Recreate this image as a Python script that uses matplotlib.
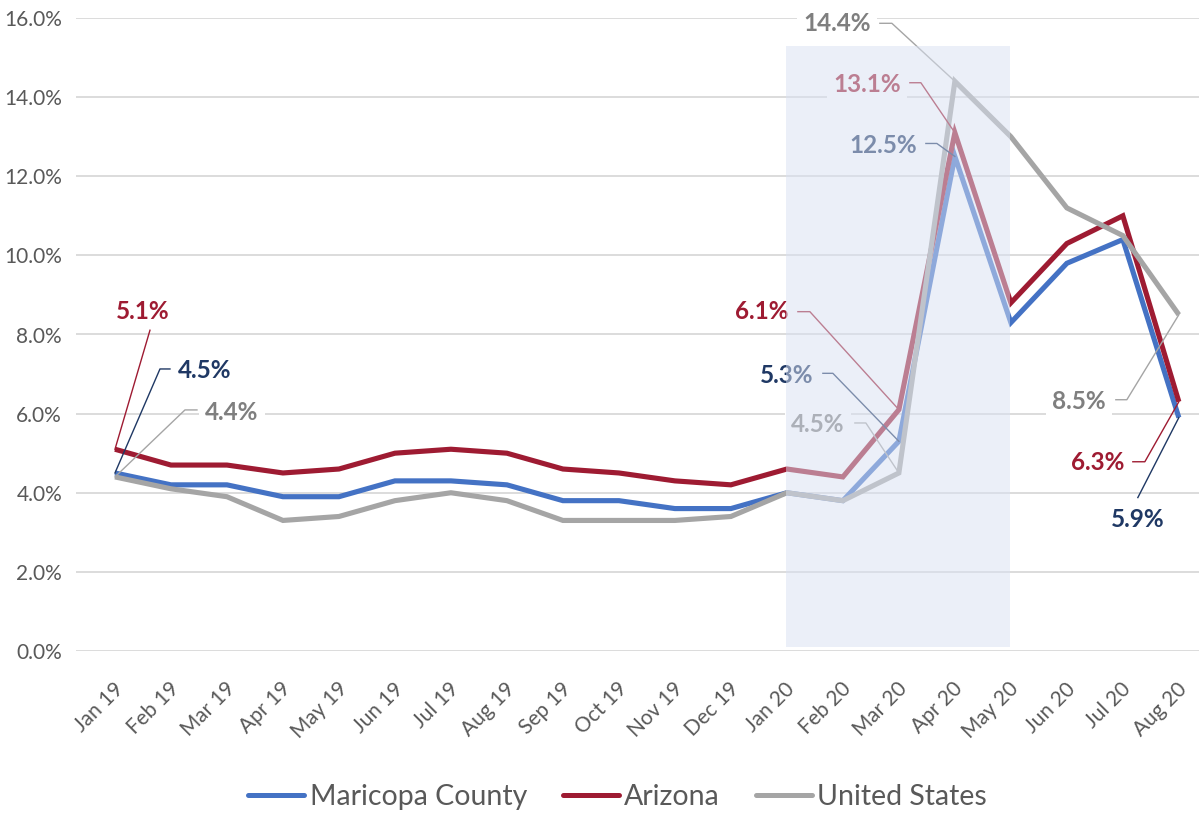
import matplotlib.pyplot as plt
import matplotlib.transforms as mtransforms
from matplotlib.ticker import FuncFormatter

months = ["Jan 19", "Feb 19", "Mar 19", "Apr 19", "May 19", "Jun 19", "Jul 19",
          "Aug 19", "Sep 19", "Oct 19", "Nov 19", "Dec 19", "Jan 20", "Feb 20",
          "Mar 20", "Apr 20", "May 20", "Jun 20", "Jul 20", "Aug 20"]
maricopa = [4.5, 4.2, 4.2, 3.9, 3.9, 4.3, 4.3, 4.2, 3.8, 3.8, 3.6, 3.6,
            4.0, 3.8, 5.3, 12.5, 8.3, 9.8, 10.4, 5.9]
arizona = [5.1, 4.7, 4.7, 4.5, 4.6, 5.0, 5.1, 5.0, 4.6, 4.5, 4.3, 4.2,
           4.6, 4.4, 6.1, 13.1, 8.8, 10.3, 11.0, 6.3]
united_states = [4.4, 4.1, 3.9, 3.3, 3.4, 3.8, 4.0, 3.8, 3.3, 3.3, 3.3, 3.4,
                 4.0, 3.8, 4.5, 14.4, 13.0, 11.2, 10.5, 8.5]
highlight = ("Jan 20", "May 20")

FONT = "Lato"
series = [
    ("Maricopa County", maricopa, "#4472C4", "#1F3864", "#1F3864"),
    ("Arizona", arizona, "#9E1B32", "#9E1B32", "#9E1B32"),
    ("United States", united_states, "#A5A5A5", "#7F7F7F", "#A5A5A5"),
]

# callouts: series index, month, text offset (px), leader vertices (px)
callouts = [
    (1, "Jan 19", (28, 138), [(0, 0), (35, 119)]),
    (0, "Jan 19", (90, 102), [(0, 0), (45, 104), (55, 104)]),
    (2, "Jan 19", (117, 64), [(0, 0), (70, 67), (82, 67)]),
    (2, "Apr 20", (-118, 58), [(0, 0), (-63, 58), (-75, 58)]),
    (1, "Apr 20", (-88, 48), [(0, 0), (-34, 50), (-45, 50)]),
    (0, "Apr 20", (-72, 11), [(0, 0), (-18, 13), (-29, 13)]),
    (1, "Mar 20", (-137, 98), [(0, 0), (-89, 98), (-101, 98)]),
    (0, "Mar 20", (-112, 66), [(0, 0), (-66, 68), (-76, 68)]),
    (2, "Mar 20", (-81, 48), [(0, 0), (-33, 50), (-44, 50)]),
    (2, "Aug 20", (-100, -87), [(0, 0), (-52, -85), (-63, -85)]),
    (1, "Aug 20", (-81, -61), [(0, 0), (-34, -60), (-46, -60)]),
    (0, "Aug 20", (-41, -102), [(0, 0), (-41, -80)]),
]

fig = plt.figure(figsize=(11.99, 8.13), dpi=100)
ax = fig.add_axes([76 / 1199, 1 - 651 / 813, 1 - 76 / 1199, (651 - 18) / 813])
x = list(range(len(months)))

for z, (name, vals, color, _, _) in enumerate(series):
    ax.plot(x, vals, color=color, lw=3.7, label=name, zorder=2 + z,
            solid_joinstyle="miter", solid_capstyle="butt")

for si, month, (dx, dy), path in callouts:
    _, vals, _, tcolor, lcolor = series[si]
    i = months.index(month)
    v = vals[i]
    tr = (mtransforms.Affine2D().scale(0.01) + fig.dpi_scale_trans
          + mtransforms.ScaledTranslation(i, v, ax.transData))
    ax.plot([p[0] for p in path], [p[1] for p in path], color=lcolor, lw=1.0,
            transform=tr, zorder=6, clip_on=False)
    ax.annotate(f"{v:.1f}%", xy=(i, v), xytext=(dx, dy),
                textcoords="offset pixels", ha="center", va="center",
                fontsize=17.5, fontweight="bold", color=tcolor, family=FONT,
                zorder=7, annotation_clip=False,
                bbox=dict(boxstyle="square,pad=0.25", fc="white", ec="none"))

i0, i1 = months.index(highlight[0]), months.index(highlight[1])
ax.axvspan(i0 - 0.02, i1 - 0.02, ymin=0.006, ymax=0.955, color="#D9E1F2",
           alpha=0.5, lw=0, zorder=10)

ax.set_xlim(-0.696, 19.36)
ax.set_ylim(0, 16)
ax.set_yticks(range(0, 17, 2))
ax.yaxis.set_major_formatter(FuncFormatter(lambda v, _: f"{v:.1f}%"))
ax.set_xticks(x)
ax.set_xticklabels(months, rotation=45, ha="right", va="center",
                   rotation_mode="anchor")
ax.grid(axis="y", color="#D9D9D9", lw=1.3)
ax.set_axisbelow(True)
ax.tick_params(length=0)
ax.tick_params(axis="y", pad=10, labelsize=15, labelcolor="#595959")
ax.tick_params(axis="x", pad=25, labelsize=15, labelcolor="#595959")
for lab in ax.get_yticklabels() + ax.get_xticklabels():
    lab.set_family(FONT)
shift = mtransforms.ScaledTranslation(0.05, 0, fig.dpi_scale_trans)
for lab in ax.get_xticklabels():
    lab.set_transform(lab.get_transform() + shift)
for s in ax.spines.values():
    s.set_visible(False)

handles, labels = ax.get_legend_handles_labels()
leg = fig.legend(handles, labels, loc="center", bbox_to_anchor=(0.515, 0.02),
                 ncol=3, frameon=False, handlelength=1.97, handletextpad=0.18,
                 columnspacing=1.26, prop={"family": FONT, "size": 20.5})
for t in leg.get_texts():
    t.set_color("#595959")
for h in leg.get_lines():
    h.set_linewidth(3.6)
    h.set_solid_capstyle("round")

fig.savefig("out.png", dpi=100)
